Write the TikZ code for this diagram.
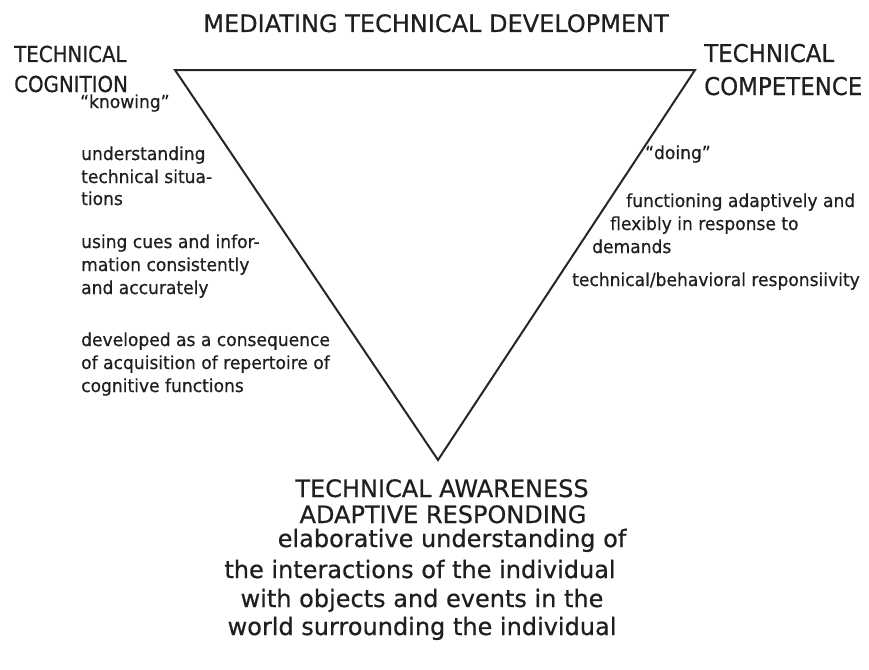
\documentclass[tikz,border=0pt]{standalone}
\usepackage{fontspec}
\setmainfont{DejaVu Sans}[FakeBold=0.6]
\newfontfamily\capsleft{DejaVu Sans}[FakeBold=0.6, FakeStretch=0.9]
\newfontfamily\capsright{DejaVu Sans}[FakeBold=0.6, FakeStretch=0.935]
\newfontfamily\notefont{DejaVu Sans}[FakeBold=0.6, FakeStretch=0.95]

\begin{document}
\begin{tikzpicture}[x=1pt,y=-1pt,
  every node/.style={inner sep=0pt, text=black!88},
  titlecap/.style={anchor=base, font=\fontsize{24}{28}\selectfont},
  sidecap/.style={anchor=base west, font=\capsleft\fontsize{22}{26}\selectfont},
  sidecapr/.style={anchor=base west, font=\capsright\fontsize{24.5}{28}\selectfont},
  note/.style={anchor=base west, font=\notefont\fontsize{18}{23}\selectfont},
  lowline/.style={anchor=base, font=\fontsize{24}{28}\selectfont}]
\useasboundingbox (0,0) rectangle (869,669);

% the triangle
\coordinate (tl) at (175,70);
\coordinate (tr) at (695,70);
\coordinate (bot) at (438,460);
\draw[line width=2pt, draw=black!85, line join=miter] (tl) -- (tr) -- (bot) -- cycle;

\node[titlecap] (title) at (436,32) {MEDIATING TECHNICAL DEVELOPMENT};

%left corner
\node[sidecap] (cogA) at (14,62) {TECHNICAL};
\node[sidecap] (cogB) at (14,92) {COGNITION};
\node[note] (knowing) at (80,108) {“knowing”};
\node[note] (cogC) at (81,160) {understanding};
\node[note] (cogD) at (81,183) {technical situa-};
\node[note] (cogE) at (81,205) {tions};
\node[note] (cogF) at (81,248) {using cues and infor-};
\node[note] (cogG) at (81,271) {mation consistently};
\node[note] (cogH) at (81,294) {and accurately};
\node[note] (cogI) at (81,346) {developed as a consequence};
\node[note] (cogJ) at (81,369) {of acquisition of repertoire of};
\node[note] (cogK) at (81,392) {cognitive functions};

%right corner
\node[sidecapr] (comA) at (704,62) {TECHNICAL};
\node[sidecapr] (comB) at (704,95) {COMPETENCE};
\node[note] (doing) at (645,159) {“doing”};
\node[note] (comC) at (626,207) {functioning adaptively and};
\node[note] (comD) at (610,230) {flexibly in response to};
\node[note] (comE) at (592,253) {demands};
\node[note] (comF) at (572,286) {technical/behavioral responsiivity};

%bottom corner
\node[lowline] (awA) at (442,497) {TECHNICAL AWARENESS};
\node[lowline] (awB) at (443,523) {ADAPTIVE RESPONDING};
\node[lowline] (awC) at (452,547) {elaborative understanding of};
\node[lowline] (awD) at (420,578) {the interactions of the individual};
\node[lowline] (awE) at (422,607) {with objects and events in the};
\node[lowline] (awF) at (422,635) {world surrounding the individual};
\end{tikzpicture}
\end{document}
